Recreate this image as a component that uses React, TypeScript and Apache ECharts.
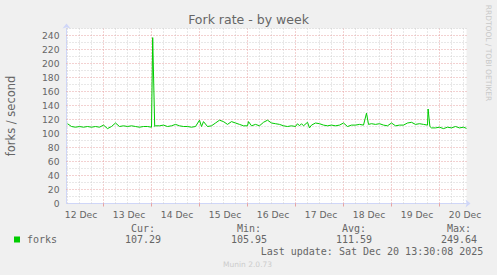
import React, { useEffect, useRef } from 'react';
import * as echarts from 'echarts';

// Hours since 12 Dec 00:00
const hours = [
  6, 8, 10, 12, 14, 16, 18, 20, 22, 24, 26, 28, 30, 32, 34, 36, 38, 40, 42, 44, 46, 48,
  48.6, 49.6, 50, 52, 54, 56, 58, 60, 62, 64, 66, 68, 70, 72, 73, 74, 76, 78, 80, 82, 84,
  86, 88, 90, 92, 94, 96, 96.5, 98, 100, 102, 104, 106, 108, 110, 112, 114, 116, 118, 120,
  121, 122, 123, 124, 126, 127, 128, 130, 132, 134, 136, 138, 140, 142, 144, 146, 148, 150,
  152, 154, 155.5, 156.5, 158, 160, 162, 164, 166, 168, 170, 172, 174, 176, 178, 180, 182,
  184, 186, 186.3, 187.2, 188, 190, 192, 194, 196, 198, 200, 202, 204, 205.5,
];
const forks = [
  114, 110, 109, 110, 109, 110, 109, 110, 109, 112, 107, 110, 115, 110, 111, 110, 111, 110, 109, 110, 110, 109,
  237, 110, 111, 111, 112, 110, 111, 113, 111, 110, 110, 109, 110, 119, 110, 117, 110, 111, 115, 119, 117,
  113, 117, 115, 113, 111, 111, 117, 111, 113, 111, 116, 119, 115, 114, 113, 111, 110, 111, 110,
  114, 111, 114, 111, 116, 108, 112, 115, 114, 112, 111, 112, 111, 112, 115, 110, 112, 112,
  113, 112, 129, 113, 114, 113, 114, 112, 111, 115, 111, 112, 112, 115, 116, 113, 114,
  113, 112, 135, 110, 108, 108, 109, 107, 109, 108, 110, 108, 109, 107.3,
];

const X_MIN = 5.5;
const X_MAX = 205.5;
const dayMidnights = [24, 48, 72, 96, 120, 144, 168, 192];
const labelHours = [12, 36, 60, 84, 108, 132, 156, 180, 204];
const labelTexts = ['12 Dec', '13 Dec', '14 Dec', '15 Dec', '16 Dec', '17 Dec', '18 Dec', '19 Dec', '20 Dec'];
const yLabels = [0, 20, 40, 60, 80, 100, 120, 140, 160, 180, 200, 220, 240];
const statNames = ['Cur:', 'Min:', 'Avg:', 'Max:'];
const statValues = ['107.29', '105.95', '111.59', '249.64'];
const seriesName = 'forks';
const lastUpdate = 'Last update: Sat Dec 20 13:30:08 2025';

const FONT = '"DejaVu Sans", sans-serif';
const MONO = '"DejaVu Sans Mono", monospace';
const TXT = '#666666';
const AXIS = '#CFD6F8';
const MAJOR = '#e6a3a3';
const MINOR = '#d0d0d0';

export default function App() {
  const ref = useRef<HTMLDivElement>(null);
  useEffect(() => {
    if (!ref.current) return;
    const chart = echarts.init(ref.current, undefined, { renderer: 'svg' });

    const minorStyle = { color: MINOR, type: [1, 2], width: 1 };
    const majorStyle = { color: MAJOR, type: [1, 2], width: 1 };
    const gridLines: any[] = [];
    for (let h = 6; h < X_MAX; h += 6) {
      const major = dayMidnights.indexOf(h) >= 0;
      gridLines.push({ xAxis: h, lineStyle: major ? majorStyle : minorStyle });
    }
    for (let v = 10; v <= 250; v += 10) {
      const major = yLabels.indexOf(v) >= 0;
      gridLines.push({ yAxis: v, lineStyle: major ? majorStyle : minorStyle });
    }

    const statX = [143, 249, 354, 459];

    const graphics: any[] = [
      {
        type: 'text', x: 248.5, y: 19,
        style: { text: 'Fork rate - by week', fill: TXT, font: `12.5px ${FONT}`, align: 'center', verticalAlign: 'middle' },
      },
      {
        type: 'text', x: 11, y: 116, rotation: Math.PI / 2,
        style: { text: 'forks / second', fill: TXT, font: `11.5px ${FONT}`, align: 'center', verticalAlign: 'middle' },
      },
      {
        type: 'text', x: 488, y: 53, rotation: -Math.PI / 2,
        style: { text: 'RRDTOOL / TOBI OETIKER', fill: '#c8c8c8', font: `7.5px ${FONT}`, align: 'center', verticalAlign: 'middle' },
      },
      { type: 'rect', shape: { x: 14, y: 236.5, width: 6, height: 6 }, style: { fill: '#00cc00' } },
      {
        type: 'text', x: 27, y: 239.5,
        style: { text: seriesName, fill: TXT, font: `10px ${MONO}`, align: 'left', verticalAlign: 'middle' },
      },
      {
        type: 'text', x: 372, y: 251.7,
        style: { text: lastUpdate, fill: TXT, font: `10px ${MONO}`, align: 'center', verticalAlign: 'middle' },
      },
      {
        type: 'text', x: 223, y: 264,
        style: { text: 'Munin 2.0.73', fill: '#cccccc', font: `7.5px ${FONT}`, align: 'left', verticalAlign: 'middle' },
      },
    ];
    statNames.forEach((n, i) => {
      graphics.push({
        type: 'text', x: statX[i], y: 228,
        style: { text: n, fill: TXT, font: `10px ${MONO}`, align: 'center', verticalAlign: 'middle' },
      });
      graphics.push({
        type: 'text', x: statX[i], y: 239.5,
        style: { text: statValues[i], fill: TXT, font: `10px ${MONO}`, align: 'center', verticalAlign: 'middle' },
      });
    });

    chart.setOption({
      animation: false,
      backgroundColor: '#f0f0f0',
      grid: { left: 66.5, top: 28.5, width: 400, height: 175, show: true, backgroundColor: '#ffffff', borderWidth: 0 },
      xAxis: {
        type: 'value', min: X_MIN, max: X_MAX,
        axisLine: { show: true, lineStyle: { color: AXIS, width: 1 }, symbol: ['none', 'arrow'], symbolSize: [6, 5], symbolOffset: [0, 4] },
        axisTick: { show: true, customValues: dayMidnights, length: 3, inside: false, lineStyle: { color: MAJOR } },
        axisLabel: {
          customValues: labelHours,
          formatter: (v: number) => labelTexts[labelHours.indexOf(v)] ?? '',
          color: TXT, fontFamily: FONT, fontSize: 9.2, margin: 6, padding: [0, 0, 0, 3],
        },
        splitLine: { show: false },
      },
      yAxis: {
        type: 'value', min: 0, max: 250,
        axisLine: { show: true, lineStyle: { color: AXIS, width: 1 }, symbol: ['none', 'arrow'], symbolSize: [6, 5], symbolOffset: [0, 5] },
        axisTick: { show: false },
        axisLabel: { customValues: yLabels, color: TXT, fontFamily: FONT, fontSize: 9.2, margin: 7 },
        splitLine: { show: false },
      },
      series: [
        {
          type: 'line',
          name: seriesName,
          data: hours.map((h, i) => [h, forks[i]]),
          showSymbol: false,
          symbol: 'none',
          z: 3,
          lineStyle: { color: '#00cc00', width: 1 },
          itemStyle: { color: '#00cc00' },
          emphasis: { disabled: true },
          markLine: {
            silent: true, symbol: 'none', z: 1, animation: false,
            label: { show: false },
            emphasis: { disabled: true },
            data: gridLines,
          },
        },
      ],
      graphic: graphics,
    });
    return () => chart.dispose();
  }, []);
  return <div ref={ref} style={{ position: 'fixed', left: 0, top: 0, width: 497, height: 275 }} />;
}
